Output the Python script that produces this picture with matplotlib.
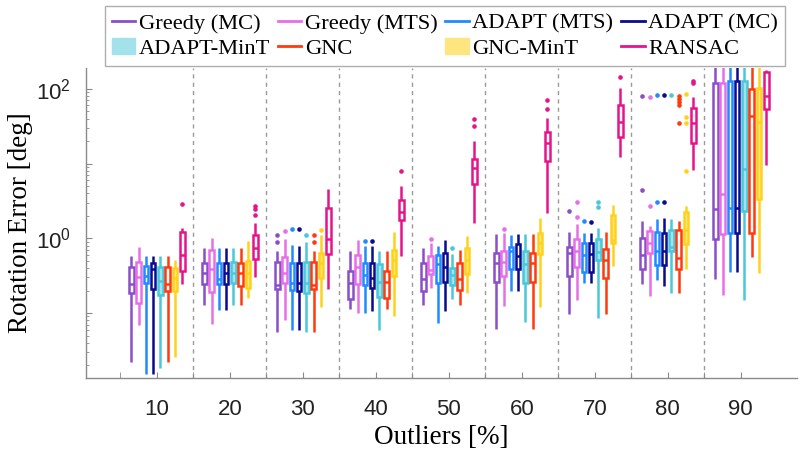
import matplotlib
matplotlib.use("Agg")
import matplotlib.pyplot as plt
from matplotlib.ticker import FixedLocator, FixedFormatter, LogLocator, NullFormatter
from matplotlib.lines import Line2D
from matplotlib.patches import Patch

plt.rcParams['mathtext.fontset'] = 'custom'
plt.rcParams['mathtext.rm'] = 'Liberation Sans'
plt.rcParams['font.family'] = 'Liberation Sans'

outliers = [10, 20, 30, 40, 50, 60, 70, 80, 90]
methods = ["Greedy (MC)", "Greedy (MTS)", "ADAPT (MTS)", "ADAPT (MC)",
           "ADAPT-MinT", "GNC", "GNC-MinT", "RANSAC"]
edge_colors = ['#8A4FC8', '#E86EE8', '#1F8BFF', '#0B0B8F',
               '#48C8D8', '#FF3A0F', '#FFD21A', '#E6148C']
fill_colors = ['white', 'white', 'white', 'white',
               '#A3E2EB', 'white', '#FFE57F', 'white']

# per outlier level: [whisker low, q1, median, q3, whisker high]  (deg)
greedy_mc = [[0.022, 0.187, 0.242, 0.41, 0.58], [0.128, 0.242, 0.347, 0.47, 0.735],
             [0.056, 0.208, 0.237, 0.486, 0.68], [0.112, 0.153, 0.255, 0.368, 0.68],
             [0.128, 0.199, 0.283, 0.46, 0.735], [0.061, 0.258, 0.46, 0.63, 1.13],
             [0.096, 0.31, 0.63, 0.77, 1.23], [0.242, 0.385, 0.60, 1.02, 1.70],
             [0.283, 0.97, 2.44, 119, 300]]
greedy_mc_out = [[], [], [0.90, 1.11], [], [], [], [2.32], [4.43, 80.4], []]

greedy_mts = [[0.069, 0.137, 0.30, 0.48, 0.77], [0.0706, 0.193, 0.385, 0.70, 1.02],
              [0.081, 0.255, 0.347, 0.57, 0.97], [0.101, 0.242, 0.417, 0.60, 0.95],
              [0.218, 0.33, 0.377, 0.585, 0.873], [0.124, 0.316, 0.486, 0.68, 1.17],
              [0.149, 0.417, 0.68, 0.98, 1.55], [0.169, 0.63, 0.857, 1.25, 1.47],
              [0.174, 1.13, 3.88, 119, 300]]
greedy_mts_out = [[], [], [1.25], [], [0.97], [1.32], [1.91, 3.09], [2.73, 78.7], []]

adapt_mts = [[0.0152, 0.255, 0.31, 0.43, 0.58], [0.11, 0.242, 0.283, 0.47, 0.75],
             [0.059, 0.203, 0.25, 0.46, 0.81], [0.101, 0.237, 0.323, 0.47, 0.79],
             [0.074, 0.25, 0.449, 0.60, 0.79], [0.199, 0.385, 0.68, 0.77, 1.11],
             [0.255, 0.357, 0.60, 0.857, 1.19], [0.277, 0.44, 0.68, 1.20, 1.81],
             [0.35, 1.19, 2.57, 128, 300]]
adapt_mts_out = [[], [], [1.32], [0.92], [], [], [1.70], [3.03, 82.1], []]

adapt_mc = [[0.0152, 0.211, 0.39, 0.47, 0.58], [0.11, 0.242, 0.34, 0.47, 0.75],
            [0.059, 0.199, 0.255, 0.46, 0.79], [0.106, 0.218, 0.29, 0.47, 0.79],
            [0.107, 0.262, 0.417, 0.63, 0.95], [0.199, 0.385, 0.585, 0.84, 1.13],
            [0.255, 0.357, 0.61, 0.873, 1.19], [0.23, 0.44, 0.68, 1.17, 1.89],
            [0.35, 1.19, 2.57, 128, 300]]
adapt_mc_out = [[], [], [1.35], [0.92], [], [], [1.67], [3.03, 82.1], []]

adapt_mint = [[0.0185, 0.176, 0.27, 0.41, 0.58], [0.128, 0.25, 0.34, 0.486, 0.735],
              [0.056, 0.187, 0.25, 0.486, 0.90], [0.059, 0.165, 0.262, 0.453, 0.676],
              [0.153, 0.237, 0.323, 0.396, 0.61], [0.0765, 0.25, 0.453, 0.676, 1.13],
              [0.0865, 0.51, 0.66, 0.98, 1.36], [0.184, 0.676, 0.77, 1.29, 1.81],
              [0.149, 2.32, 8.39, 128, 300]]
adapt_mint_out = [[], [], [1.11], [], [0.75], [], [2.65, 3.09], [83.6], []]

gnc = [[0.0221, 0.195, 0.242, 0.41, 0.58], [0.128, 0.23, 0.34, 0.46, 0.735],
       [0.056, 0.208, 0.237, 0.486, 0.68], [0.112, 0.157, 0.262, 0.368, 0.676],
       [0.128, 0.203, 0.283, 0.46, 0.70], [0.061, 0.258, 0.46, 0.63, 1.13],
       [0.096, 0.29, 0.52, 0.72, 1.23], [0.184, 0.39, 0.54, 1.29, 1.70],
       [0.557, 1.19, 43.4, 99.7, 300]]
gnc_out = [[], [], [0.90, 1.11], [], [], [], [], [35.3, 60.9, 67.4, 72.6, 80.4], []]

gnc_mint = [[0.026, 0.195, 0.297, 0.40, 0.52], [0.16, 0.218, 0.34, 0.50, 0.92],
            [0.119, 0.29, 0.46, 0.63, 1.11], [0.091, 0.31, 0.51, 0.70, 1.20],
            [0.184, 0.33, 0.52, 0.735, 1.07], [0.119, 0.62, 0.857, 1.17, 1.89],
            [0.425, 0.873, 0.95, 2.05, 2.79], [0.39, 0.83, 1.29, 2.23, 2.73],
            [0.34, 3.33, 36.4, 104, 300]]
gnc_mint_out = [[], [], [1.29], [], [], [], [], [7.96, 35.3, 42.5, 84.7], []]

ransac = [[0.242, 0.368, 0.59, 1.22, 1.36], [0.306, 0.53, 0.735, 1.11, 1.62],
          [0.208, 0.62, 0.97, 2.57, 4.53], [0.58, 1.76, 2.23, 3.26, 5.01],
          [1.62, 5.28, 8.65, 11.4, 20.3], [2.20, 10.9, 18.7, 26.2, 40.4],
          [12.4, 22.9, 35.7, 60.9, 102], [8.2, 18.7, 34.6, 56, 78.7],
          [9.58, 53.3, 80.4, 167, 179]]
ransac_out = [[2.85], [2.05, 2.47, 2.73], [], [8.03], [31.9, 39.2], [53.3, 71],
              [143], [121, 129], []]

all_stats = [greedy_mc, greedy_mts, adapt_mts, adapt_mc, adapt_mint, gnc, gnc_mint, ransac]
all_out = [greedy_mc_out, greedy_mts_out, adapt_mts_out, adapt_mc_out,
           adapt_mint_out, gnc_out, gnc_mint_out, ransac_out]

fig = plt.figure(figsize=(8.03, 4.49), dpi=100)
ax = fig.add_axes([86 / 803, 1 - 378 / 449, (797 - 86) / 803, (378 - 68) / 449])

lw = 1.8
for k in range(len(methods)):
    c = edge_colors[k]
    stats = []
    for g in range(len(outliers)):
        lo, q1, med, q3, hi = all_stats[k][g]
        stats.append(dict(whislo=lo, q1=q1, med=med, q3=q3, whishi=hi, fliers=all_out[k][g]))
    pos = [g + 1 + (k - 3.5) * 0.1 for g in range(len(outliers))]
    ax.bxp(stats, positions=pos, widths=0.062, patch_artist=True, showcaps=False,
           boxprops=dict(edgecolor=c, facecolor=fill_colors[k], linewidth=lw),
           whiskerprops=dict(color=c, linewidth=lw, solid_capstyle='butt'),
           medianprops=dict(color=c, linewidth=lw),
           flierprops=dict(marker='o', markersize=2.3, markerfacecolor=c,
                           markeredgecolor=c, linestyle='none'),
           manage_ticks=False, zorder=3)

for s in range(1, len(outliers)):
    ax.axvline(s + 0.5, color='#9a9a9a', linestyle=(0, (3, 3)), linewidth=1, zorder=1)

ax.set_yscale('log')
ax.set_ylim(0.0135, 190)
ax.set_xlim(0.03, 9.77)

ax.yaxis.set_major_locator(FixedLocator([0.1, 1, 10, 100]))
ax.yaxis.set_major_formatter(FixedFormatter(['', r'$10^{0}$', '', r'$10^{2}$']))
ax.yaxis.set_minor_locator(LogLocator(base=10, subs=range(2, 10)))
ax.yaxis.set_minor_formatter(NullFormatter())

ax.set_xticks(range(1, len(outliers) + 1))
ax.set_xticklabels([str(o) for o in outliers])
ax.set_xticks([s + 0.5 for s in range(0, len(outliers))], minor=True)

ax.tick_params(which='both', direction='in', color='#8a8a8a', labelcolor='#222222',
               labelsize=16)
ax.tick_params(which='major', length=4.5)
ax.tick_params(which='minor', length=2.5)
ax.tick_params(axis='x', which='minor', length=4.5)
ax.tick_params(axis='y', pad=11)
ax.tick_params(axis='x', pad=15)

for side in ['top', 'right']:
    ax.spines[side].set_visible(False)
for side in ['left', 'bottom']:
    ax.spines[side].set_color('#8a8a8a')
    ax.spines[side].set_linewidth(1)

ax.set_xlabel("Outliers [%]", family='Liberation Serif', fontsize=19.5, labelpad=4)
ax.set_ylabel("Rotation Error [deg]", family='Liberation Serif', fontsize=19.5)
ax.yaxis.set_label_coords(-0.074, 0.5)

handles = {}
for k, m in enumerate(methods):
    if fill_colors[k] != 'white':
        handles[m] = Patch(facecolor=fill_colors[k], edgecolor=fill_colors[k])
    else:
        handles[m] = Line2D([], [], color=edge_colors[k], linewidth=2)
order = ["Greedy (MC)", "ADAPT-MinT", "Greedy (MTS)", "GNC",
         "ADAPT (MTS)", "GNC-MinT", "ADAPT (MC)", "RANSAC"]
leg = fig.legend([handles[m] for m in order], order, ncol=4, loc='upper right',
                 bbox_to_anchor=(785 / 803, 1 - 6 / 449),
                 prop=dict(family='Liberation Serif', size=16.2),
                 frameon=True, fancybox=False, handlelength=1.05, handletextpad=0.15,
                 columnspacing=0.35, labelspacing=0.22, borderpad=0.3, borderaxespad=0)
leg.get_frame().set_edgecolor('#9a9a9a')
leg.get_frame().set_linewidth(1)

fig.savefig("out.png", dpi=100)
